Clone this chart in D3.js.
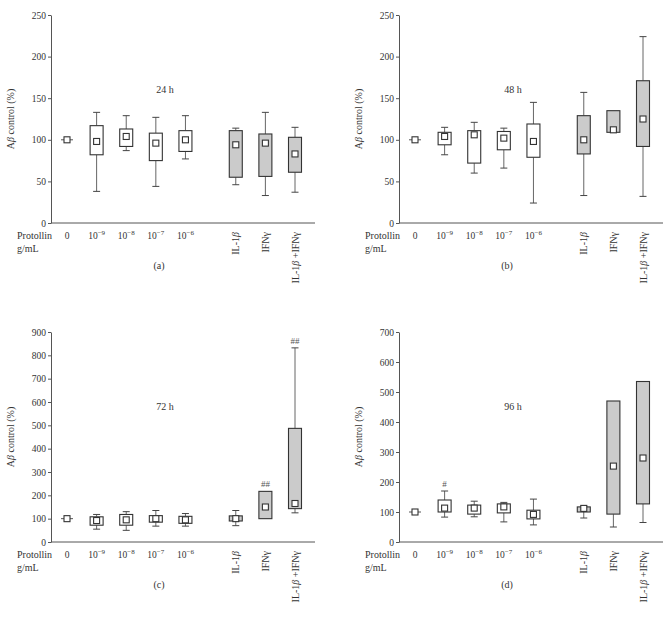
<!DOCTYPE html>
<html>
<head>
<meta charset="utf-8">
<script src="https://cdn.jsdelivr.net/npm/d3@7"></script>
<style>
  body { margin: 0; background: #fff; }
  svg { display: block; }
  svg text { font-family: "Liberation Serif", "DejaVu Serif", serif; }
</style>
</head>
<body>
<div class="visual"></div>
<script>
// category positions (gap before the cytokine groups)
const catPos = [0, 1, 2, 3, 4, 5.7, 6.7, 7.7];
const doseBase = ["0", "10", "10", "10", "10"];
const doseExp = ["", "\u22129", "\u22128", "\u22127", "\u22126"];
const cytoLabels = [["IL-1", "\u03b2", ""], ["IFN\u03b3", "", ""], ["IL-1", "\u03b2", " +IFN\u03b3"]];
const isCytokine = [false, false, false, false, false, true, true, true];

const titles = ["24 h", "48 h", "72 h", "96 h"];
const letters = ["(a)", "(b)", "(c)", "(d)"];
const yMax = [250, 250, 900, 700];
const yStep = [50, 50, 100, 100];

// each row: [whisker low, q1, q3, whisker high, marker]
const box24 = [
  [null, 100, 100, null, 100],
  [38, 82, 117, 133, 98],
  [87, 92, 113, 129, 104],
  [44, 75, 108, 127, 96],
  [77, 86, 111, 129, 100],
  [46, 55, 111, 114, 94],
  [33, 56, 107, 133, 96],
  [37, 61, 103, 115, 83]
];
const box48 = [
  [null, 100, 100, null, 100],
  [82, 94, 109, 115, 104],
  [60, 72, 111, 121, 106],
  [66, 88, 110, 114, 102],
  [24, 79, 119, 145, 98],
  [33, 83, 129, 157, 100],
  [null, 109, 135, null, 112],
  [32, 92, 171, 224, 125]
];
const box72 = [
  [null, 100, 100, null, 100],
  [55, 72, 108, 118, 92],
  [50, 72, 118, 130, 95],
  [68, 85, 113, 135, 100],
  [68, 80, 110, 122, 95],
  [70, 90, 112, 135, 100],
  [null, 100, 217, null, 150],
  [125, 143, 487, 832, 165]
];
const box96 = [
  [null, 100, 100, null, 100],
  [83, 100, 140, 170, 113],
  [84, 93, 123, 136, 113],
  [67, 97, 127, 132, 117],
  [57, 77, 106, 143, 92],
  [80, 100, 117, 119, 112],
  [50, 93, 470, null, 253],
  [65, 127, 535, null, 280]
];
const signif72 = ["", "", "", "", "", "", "##", "##"];
const signif96 = ["", "#", "", "", "", "", "", ""];

const allBoxes = [box24, box48, box72, box96];
const allSignif = [null, null, signif72, signif96];

const svg = d3.select(".visual").append("svg")
  .attr("width", 666)
  .attr("height", 630);

const panelLeft = [51, 399, 51, 399];
const panelTop = [15, 15, 332, 332];
const panelBottom = [223, 223, 542, 542];
const axisW = 264;
const boxW = 13;
const capW = 7;
const markW = 6;
const ink = "#333";
const serif = "Liberation Serif";

function drawPanel(p) {
  const g = svg.append("g").attr("transform", `translate(${panelLeft[p]},0)`);
  const data = allBoxes[p];

  const x = d3.scaleLinear().domain([0, 7.7]).range([16, 244]);
  const y = d3.scaleLinear().domain([0, yMax[p]]).range([panelBottom[p], panelTop[p]]);

  const yAxis = d3.axisLeft(y)
    .tickValues(d3.range(0, yMax[p] + 1, yStep[p]))
    .tickSize(3)
    .tickSizeOuter(0)
    .tickPadding(2);
  const ax = g.append("g").call(yAxis).attr("font-family", serif);
  ax.select(".domain").attr("stroke", "#555");
  ax.selectAll(".tick line").attr("stroke", "#555");
  ax.selectAll(".tick text")
    .attr("fill", ink)
    .style("font-size", "9.5px");

  g.append("line")
    .attr("x1", 0).attr("x2", axisW)
    .attr("y1", y(0)).attr("y2", y(0))
    .attr("stroke", "#555");

  // y title
  const yt = g.append("text")
    .attr("transform", `translate(-37,${(panelTop[p] + panelBottom[p]) / 2}) rotate(-90)`)
    .attr("text-anchor", "middle")
    .attr("fill", ink)
    .style("font-size", "10px");
  yt.append("tspan").text("A");
  yt.append("tspan").style("font-style", "italic").text("\u03b2");
  yt.append("tspan").text(" control (%)");

  // whiskers
  data.forEach((d, i) => {
    const cx = x(catPos[i]);
    if (d[3] != null) {
      g.append("line").attr("x1", cx).attr("x2", cx).attr("y1", y(d[2])).attr("y2", y(d[3]))
        .attr("stroke", "#666");
      g.append("line").attr("x1", cx - capW / 2).attr("x2", cx + capW / 2).attr("y1", y(d[3])).attr("y2", y(d[3]))
        .attr("stroke", "#444");
    }
    if (d[0] != null) {
      g.append("line").attr("x1", cx).attr("x2", cx).attr("y1", y(d[1])).attr("y2", y(d[0]))
        .attr("stroke", "#666");
      g.append("line").attr("x1", cx - capW / 2).attr("x2", cx + capW / 2).attr("y1", y(d[0])).attr("y2", y(d[0]))
        .attr("stroke", "#444");
    }
  });

  // boxes (a flat box is drawn as a line)
  data.forEach((d, i) => {
    const cx = x(catPos[i]);
    if (d[1] === d[2]) {
      g.append("line")
        .attr("x1", cx - 6).attr("x2", cx + 6)
        .attr("y1", y(d[1])).attr("y2", y(d[1]))
        .attr("stroke", "#555");
      return;
    }
    g.append("rect")
      .attr("x", cx - boxW / 2)
      .attr("y", y(d[2]))
      .attr("width", boxW)
      .attr("height", y(d[1]) - y(d[2]))
      .attr("fill", isCytokine[i] ? "#cbcbcb" : "#fff")
      .attr("stroke", ink)
      .attr("stroke-width", 1.1);
  });

  // mean markers
  g.selectAll("rect.mark")
    .data(data)
    .enter()
    .append("rect")
    .attr("class", "mark")
    .attr("x", (d, i) => x(catPos[i]) - markW / 2)
    .attr("y", d => y(d[4]) - markW / 2)
    .attr("width", markW)
    .attr("height", markW)
    .attr("fill", "#fff")
    .attr("stroke", ink)
    .attr("stroke-width", 1.1);

  // significance marks
  if (allSignif[p]) {
    allSignif[p].forEach((s, i) => {
      if (!s) return;
      const d = data[i];
      const top = d[3] != null ? d[3] : d[2];
      g.append("text")
        .attr("x", x(catPos[i]))
        .attr("y", y(top) - 4)
        .attr("text-anchor", "middle")
        .attr("fill", "#555")
        .style("font-size", "9px")
        .text(s);
    });
  }

  // panel title
  g.append("text")
    .attr("x", 114)
    .attr("y", panelTop[p] + 78)
    .attr("text-anchor", "middle")
    .attr("fill", ink)
    .style("font-size", "10px")
    .text(titles[p]);

  // x labels
  const lb = y(0) + 16;
  g.append("text").attr("x", -34).attr("y", lb).attr("fill", ink).style("font-size", "10px").text("Protollin");
  g.append("text").attr("x", -34).attr("y", lb + 13).attr("fill", ink).style("font-size", "10px").text("g/mL");

  doseBase.forEach((b, i) => {
    const t = g.append("text")
      .attr("x", x(catPos[i]))
      .attr("y", lb)
      .attr("text-anchor", "middle")
      .attr("fill", ink)
      .style("font-size", "9.5px");
    t.append("tspan").text(b);
    if (doseExp[i]) {
      t.append("tspan").attr("dy", -4).style("font-size", "7px").text(doseExp[i]);
    }
  });

  cytoLabels.forEach((parts, j) => {
    const i = 5 + j;
    const t = g.append("text")
      .attr("transform", `translate(${x(catPos[i]) + 3.5},${y(0) + 9}) rotate(-90)`)
      .attr("text-anchor", "end")
      .attr("fill", ink)
      .style("font-size", "10px");
    t.append("tspan").text(parts[0]);
    if (parts[1]) t.append("tspan").style("font-style", "italic").text(parts[1]);
    if (parts[2]) t.append("tspan").text(parts[2]);
  });

  g.append("text")
    .attr("x", 108)
    .attr("y", y(0) + 46)
    .attr("text-anchor", "middle")
    .attr("fill", ink)
    .style("font-size", "10px")
    .text(letters[p]);
}

[0, 1, 2, 3].forEach(drawPanel);
</script>
</body>
</html>
